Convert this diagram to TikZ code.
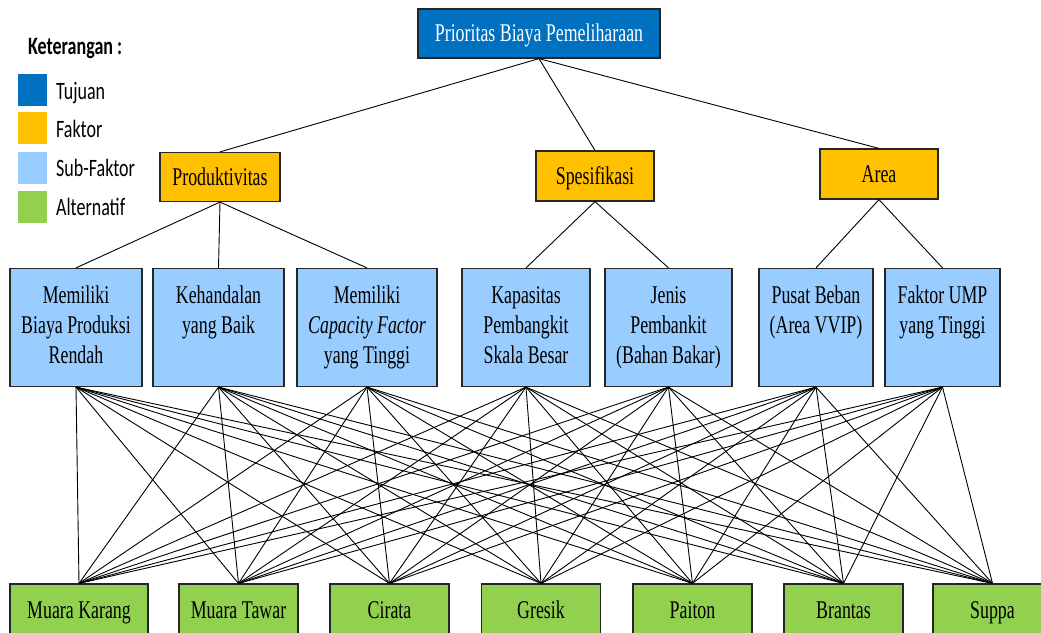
\documentclass[tikz,border=0pt]{standalone}
\usepackage{fontspec}
\newfontfamily\boxfont[FakeStretch=0.70]{Liberation Serif}
\newfontfamily\legfont[FakeStretch=0.72]{Carlito}
\definecolor{goalblue}{HTML}{0070C0}
\definecolor{factoryellow}{HTML}{FFC000}
\definecolor{subblue}{HTML}{99CCFF}
\definecolor{altgreen}{HTML}{92D050}
% top-aligned text block of a sub-factor box: width, lines
\newcommand\subtext[2]{\parbox[c][118pt][t]{#1}{\centering\rule{0pt}{35pt}#2}}
\begin{document}
\begin{tikzpicture}[x=1pt,y=-1pt,
  box/.style={draw=black!85, line width=1.2pt, inner sep=0pt,
    font=\boxfont\fontsize{25.5}{30}\selectfont},
  goal/.style={box, fill=goalblue, text=white, minimum width=242pt,
    minimum height=49pt, text height=18pt, text depth=2pt},
  factor/.style={box, fill=factoryellow, minimum width=119pt,
    minimum height=49pt, text height=18pt, text depth=2pt},
  sub/.style={box, fill=subblue},
  alt/.style={box, fill=altgreen, minimum width=119pt, minimum height=52pt,
    text height=18pt, text depth=2pt},
  link/.style={draw=black, line width=0.9pt},
  swatch/.style={minimum width=29pt, minimum height=32pt, inner sep=0pt},
  legend/.style={font=\legfont\fontsize{25}{28}\selectfont,
    anchor=base west, inner sep=0pt}]
\useasboundingbox (0,0) rectangle (1041,632);
\clip (0,0) rectangle (1041,632);

% legend
\node[legend, font=\legfont\bfseries\fontsize{25}{28}\selectfont] (keyhead) at (28,54) {Keterangan :};
\node[swatch, fill=goalblue]     (k1) at (32.5,89.5) {};
\node[swatch, fill=factoryellow] (k2) at (32.5,128) {};
\node[swatch, fill=subblue]      (k3) at (32.5,167.5) {};
\node[swatch, fill=altgreen]     (k4) at (32.5,207) {};
\node[legend] (l1) at (56,99)  {Tujuan};
\node[legend] (l2) at (56,137) {Faktor};
\node[legend] (l3) at (56,176) {Sub-Faktor};
\node[legend] (l4) at (56,215) {Alternatif};

% goal
\node[goal] (goal) at (539,33.5) {Prioritas Biaya Pemeliharaan};

% factors
\node[factor, minimum width=120pt] (f1) at (220,177) {Produktivitas};
\node[factor, minimum width=118pt, minimum height=50pt] (f2) at (595,176) {Spesifikasi};
\node[factor, minimum width=118pt, minimum height=50pt] (f3) at (879,174) {Area};

% sub-factors
\node[sub] (s1) at (76,327.5)  {\subtext{132pt}{Memiliki\\Biaya Produksi\\Rendah}};
\node[sub] (s2) at (218.5,327.5) {\subtext{131pt}{Kehandalan\\yang Baik}};
\node[sub] (s3) at (367,327.5) {\subtext{140pt}{Memiliki\\\textit{Capacity Factor}\\yang Tinggi}};
\node[sub] (s4) at (526,327.5) {\subtext{128pt}{Kapasitas\\Pembangkit\\Skala Besar}};
\node[sub] (s5) at (668.5,327.5) {\subtext{127pt}{Jenis\\Pembankit\\(Bahan Bakar)}};
\node[sub] (s6) at (816,327.5) {\subtext{114pt}{Pusat Beban\\(Area VVIP)}};
\node[sub] (s7) at (942.5,327.5) {\subtext{115pt}{Faktor UMP\\yang Tinggi}};

% alternatives
\node[alt, minimum width=138pt] (a1) at (79,610) {Muara Karang};
\node[alt] (a2) at (238.5,610) {Muara Tawar};
\node[alt] (a3) at (389.5,610) {Cirata};
\node[alt] (a4) at (541,610)   {Gresik};
\node[alt] (a5) at (692.5,610) {Paiton};
\node[alt] (a6) at (843.5,610) {Brantas};
\node[alt] (a7) at (992.5,610) {Suppa};

% goal to factors
\foreach \f in {f1,f2,f3} \draw[link] (goal.south) -- (\f.north);
% factors to sub-factors
\foreach \s in {s1,s2,s3} \draw[link] (f1.south) -- (\s.north);
\foreach \s in {s4,s5} \draw[link] (f2.south) -- (\s.north);
\foreach \s in {s6,s7} \draw[link] (f3.south) -- (\s.north);
% every sub-factor to every alternative
\foreach \i in {1,...,7}
  \foreach \j in {1,...,7}
    \draw[link] (s\i.south) -- (a\j.north);
\end{tikzpicture}
\end{document}
